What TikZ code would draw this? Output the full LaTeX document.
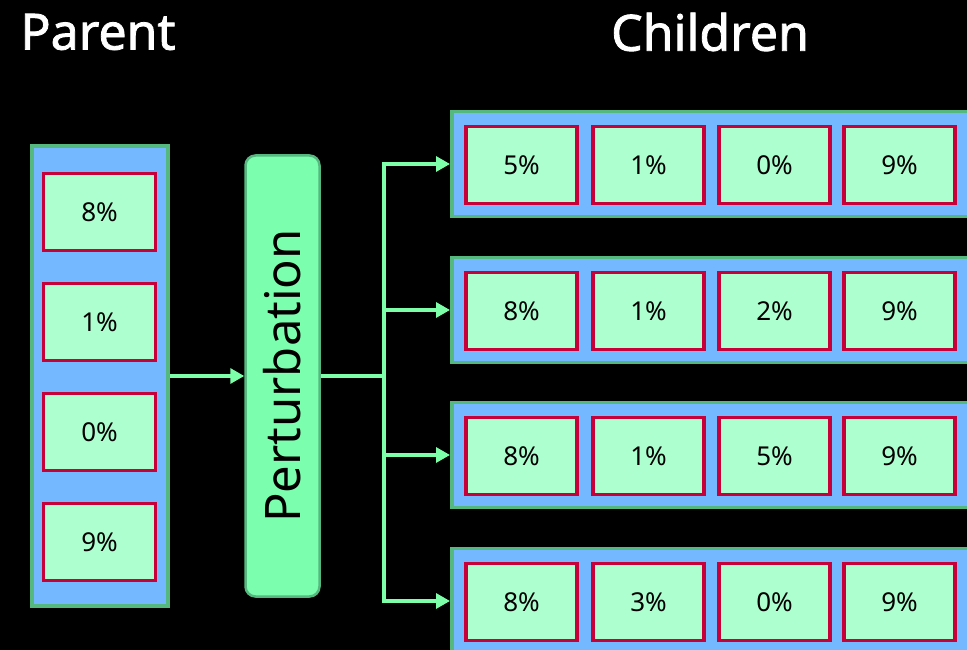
\documentclass[tikz,border=0pt]{standalone}
\usepackage{fontspec}
\setmainfont{Noto Sans}
\newfontfamily\titlefont[FakeBold=1.6]{Noto Sans}
\usetikzlibrary{arrows.meta,positioning,calc}
\definecolor{boxblue}{HTML}{74B9FF}
\definecolor{boxgreen}{HTML}{55B87F}
\definecolor{cellfill}{HTML}{ADFFCF}
\definecolor{cellred}{HTML}{C8003A}
\definecolor{pertfill}{HTML}{7BFFAE}
\definecolor{flowgreen}{HTML}{7CFFA8}
\begin{document}
\begin{tikzpicture}[x=1pt,y=-1pt,
  chrom/.style={draw=boxgreen,fill=boxblue,line width=3.5pt,inner sep=0pt},
  gene/.style={draw=cellred,fill=cellfill,line width=3.5pt,inner sep=0pt,minimum height=77pt,font=\fontsize{26}{28}\selectfont},
  flow/.style={draw=flowgreen,line width=3.2pt},
  title/.style={text=white,font=\titlefont\fontsize{50}{54}\selectfont}]
\path[use as bounding box,fill=black] (0,0) rectangle (967,650);
\clip (0,0) rectangle (967,650);
% titles
\node[title] (partitle) at (98,32) {Parent};
\node[title] (chtitle) at (710,32) {Children};
% parent
\node[chrom,minimum width=136pt,minimum height=460pt] (par) at (100,376) {};
\foreach \v [count=\i] in {8,1,0,9}
  \node[gene,minimum width=112pt] (p\i) at (99.5,{212+110*(\i-1)}) {\v\%};
% perturbation
\node[draw=boxgreen,fill=pertfill,line width=2.5pt,rounded corners=10pt,minimum width=74pt,minimum height=441pt] (pert) at (282.5,376) {};
\node[rotate=90,font=\fontsize{49}{52}\selectfont] (perttext) at (pert.center) {Perturbation};
% children
\foreach \r/\a/\b/\c/\d [count=\i] in {164/5/1/0/9,310/8/1/2/9,455/8/1/5/9,601/8/3/0/9}{
  \node[chrom,minimum width=530pt,minimum height=105pt,anchor=west] (ch\i) at (450,\r) {};
  \node[gene,minimum width=111pt] (c\i a) at (521.5,\r+1) {\a\%};
  \node[gene,minimum width=111pt] (c\i b) at (648.5,\r+1) {\b\%};
  \node[gene,minimum width=111pt] (c\i c) at (774.5,\r+1) {\c\%};
  \node[gene,minimum width=111pt] (c\i d) at (899.5,\r+1) {\d\%};
}
% connectors
\coordinate (split) at (384,376);
\draw[flow,-{Triangle[length=14pt,width=15pt]}] (par.east) -- (pert.west);
\draw[flow] (pert.east) -- (split);
\foreach \i in {1,...,4}
  \draw[flow,-{Triangle[length=14pt,width=15pt]}] (split) |- (ch\i.west);
\end{tikzpicture}
\end{document}
